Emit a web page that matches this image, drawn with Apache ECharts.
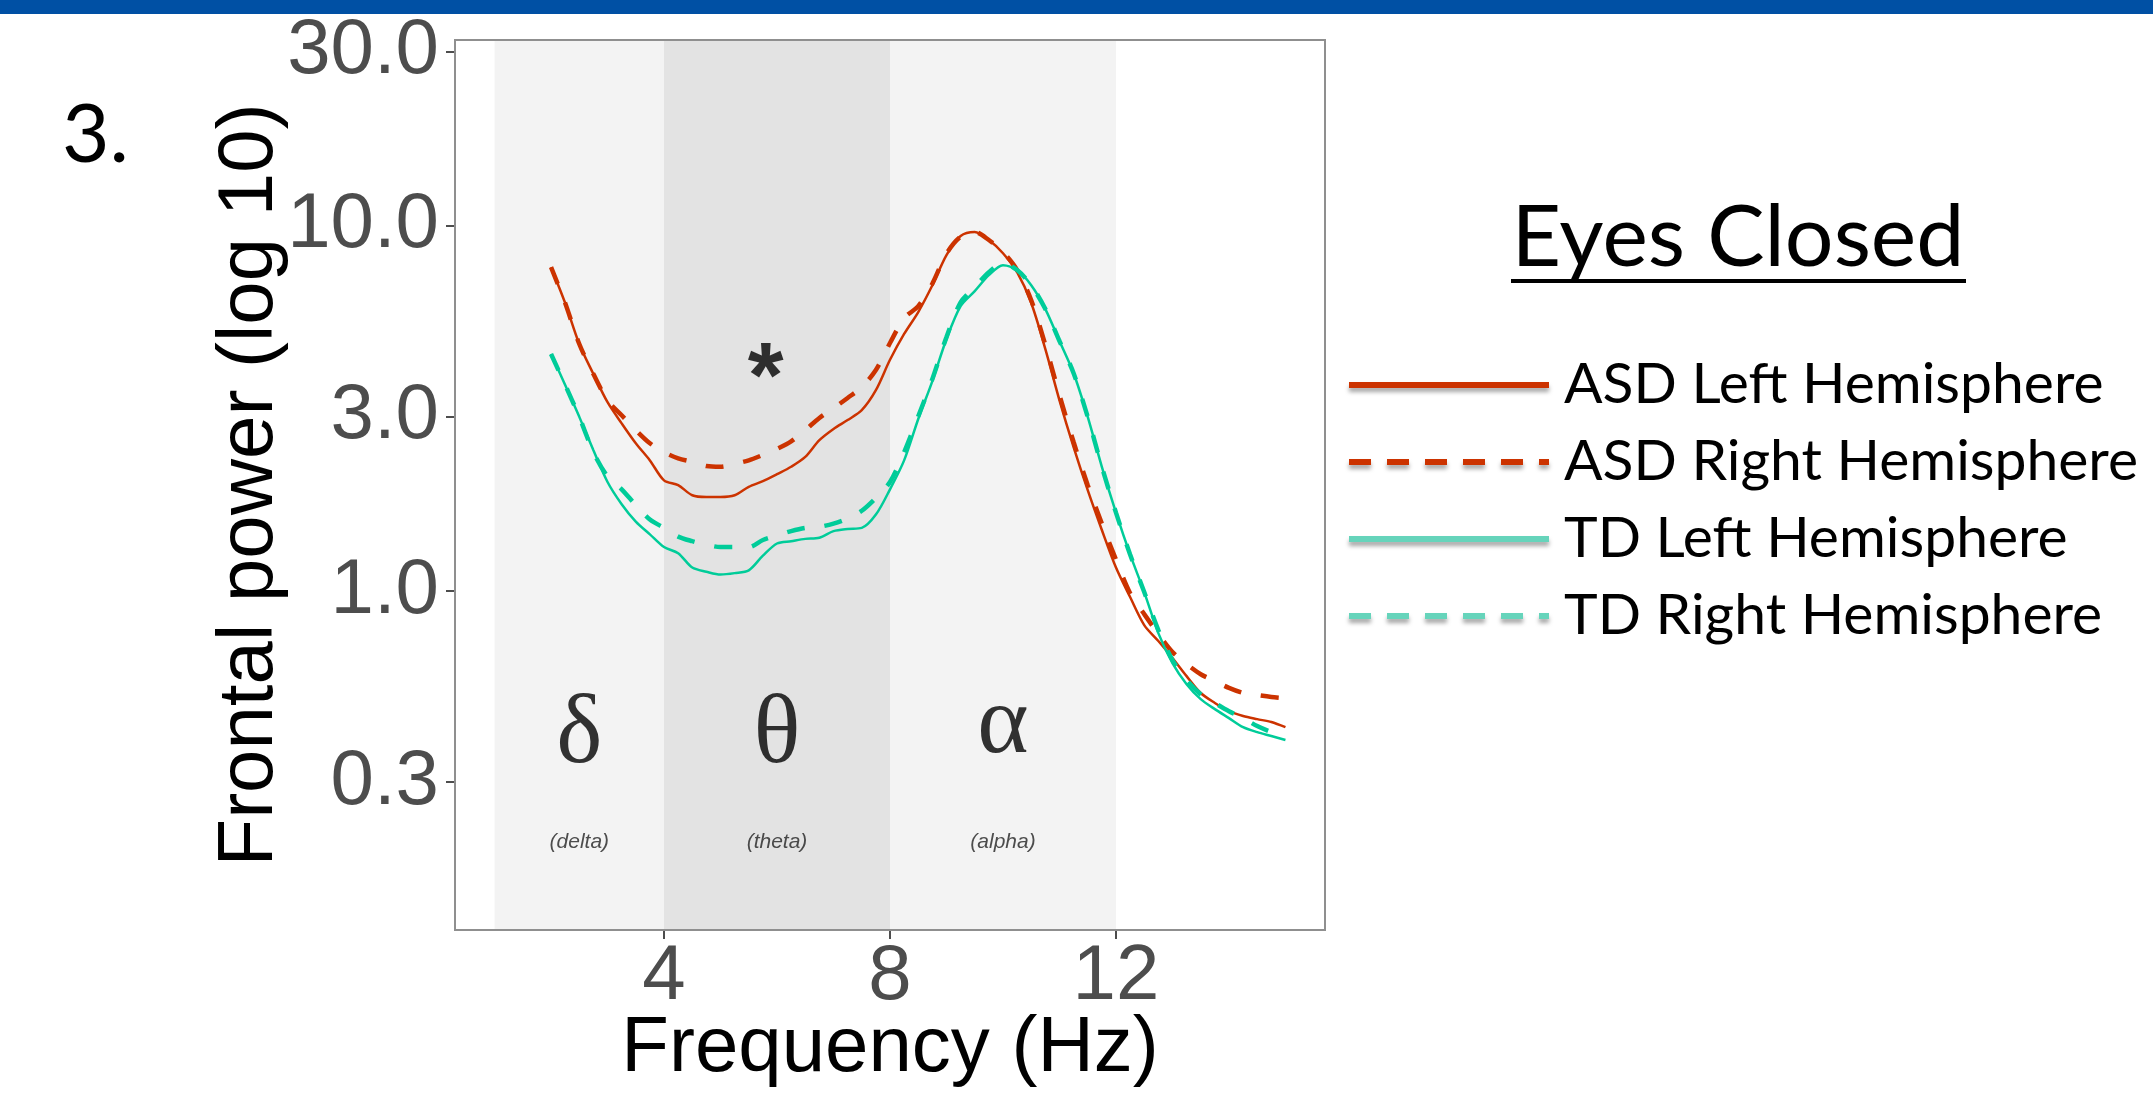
<!DOCTYPE html>
<html>
<head>
<meta charset="utf-8">
<script src="https://cdn.jsdelivr.net/npm/echarts@6/dist/echarts.min.js"></script>
<style>
html,body{margin:0;padding:0;background:#fff;}
#chart{width:2153px;height:1106px;}
</style>
</head>
<body>
<div id="chart"></div>
<script>
// ---- data ----
const frequencies = [2, 2.25, 2.5, 2.75, 3, 3.25, 3.5, 3.75, 4, 4.25, 4.5, 4.75, 5, 5.25, 5.5, 5.75, 6, 6.25, 6.5, 6.75, 7, 7.25, 7.5, 7.75, 8, 8.25, 8.5, 8.75, 9, 9.25, 9.5, 9.75, 10, 10.25, 10.5, 10.75, 11, 11.25, 11.5, 11.75, 12, 12.25, 12.5, 12.75, 13, 13.25, 13.5, 13.75, 14, 14.25, 14.5, 14.75, 15];
const asdLeft = [7.71, 6.15, 4.75, 3.93, 3.29, 2.88, 2.54, 2.28, 2.01, 1.95, 1.83, 1.81, 1.81, 1.83, 1.93, 2.00, 2.09, 2.19, 2.33, 2.59, 2.78, 2.94, 3.13, 3.55, 4.30, 5.06, 5.81, 6.88, 8.32, 9.38, 9.62, 9.15, 8.42, 7.47, 6.15, 4.60, 3.33, 2.48, 1.89, 1.47, 1.16, 0.963, 0.807, 0.730, 0.656, 0.585, 0.526, 0.494, 0.469, 0.455, 0.446, 0.438, 0.424];
const asdRight = [7.71, 6.15, 4.75, 3.93, 3.33, 3.03, 2.76, 2.54, 2.40, 2.31, 2.26, 2.20, 2.19, 2.23, 2.28, 2.36, 2.45, 2.57, 2.76, 2.98, 3.17, 3.38, 3.62, 4.03, 4.78, 5.59, 6.03, 6.95, 8.40, 9.35, 9.62, 9.15, 8.48, 7.57, 6.26, 4.72, 3.44, 2.56, 1.95, 1.53, 1.22, 0.987, 0.865, 0.763, 0.681, 0.631, 0.592, 0.567, 0.543, 0.526, 0.519, 0.513, 0.509];
const tdLeft = [4.46, 3.67, 3.00, 2.43, 1.99, 1.73, 1.55, 1.43, 1.32, 1.27, 1.16, 1.13, 1.11, 1.12, 1.14, 1.25, 1.35, 1.37, 1.39, 1.40, 1.46, 1.48, 1.49, 1.62, 1.90, 2.28, 2.96, 3.76, 4.90, 6.03, 6.63, 7.33, 7.81, 7.57, 6.88, 5.92, 4.84, 3.95, 3.00, 2.19, 1.64, 1.26, 0.994, 0.767, 0.635, 0.556, 0.506, 0.475, 0.449, 0.424, 0.411, 0.401, 0.391];
const tdRight = [4.46, 3.67, 3.00, 2.40, 2.06, 1.90, 1.72, 1.57, 1.49, 1.41, 1.37, 1.34, 1.32, 1.32, 1.32, 1.38, 1.42, 1.46, 1.49, 1.50, 1.53, 1.58, 1.66, 1.80, 1.99, 2.40, 3.01, 3.81, 4.96, 6.18, 6.80, 7.47, 7.91, 7.57, 6.88, 5.92, 4.84, 3.95, 3.00, 2.19, 1.64, 1.26, 0.994, 0.782, 0.647, 0.571, 0.522, 0.494, 0.469, 0.449, 0.427, 0.411, 0.398];
const seriesNames = ['ASD Left Hemisphere', 'ASD Right Hemisphere', 'TD Left Hemisphere', 'TD Right Hemisphere'];
const xTickValues = [4, 8, 12];
const yTickValues = [0.3, 1, 3, 10, 30];
const bandRanges = [[1, 4], [4, 8], [8, 12]];
const bandSymbols = ['δ', 'θ', 'α'];
const bandNames = ['(delta)', '(theta)', '(alpha)'];
const bandLabelX = [2.5, 6, 10];
const bandSymbolY = [0.40, 0.40, 0.427];
const bandNameY = [0.205, 0.205, 0.205];
const starPoint = [5.8, 3.75];

// ---- styles ----
const RED = '#cc3300';
const TEAL = '#00cc99';
const TEAL_LEGEND = '#66d4bb';
const bandColors = ['#f3f3f3', '#e3e3e3', '#f3f3f3'];
const SANS = 'Liberation Sans';
const LEG = 'Lato';

const pair = arr => frequencies.map((f, i) => [f, arr[i]]);
const shadow = { shadowColor: 'rgba(0,0,0,0.35)', shadowBlur: 4, shadowOffsetY: 4 };

const chart = echarts.init(document.getElementById('chart'), null, { renderer: 'canvas' });

const option = {
  animation: false,
  backgroundColor: '#ffffff',
  textStyle: { fontFamily: SANS },
  grid: {
    left: 455, top: 40, width: 870, height: 890,
    show: true, borderColor: '#8f8f8f', borderWidth: 2,
    backgroundColor: 'rgba(0,0,0,0)', z: 10,
    outerBoundsMode: 'none', containLabel: false
  },
  xAxis: {
    type: 'value', min: 0.3, max: 15.7,
    name: 'Frequency (Hz)', nameLocation: 'middle', nameGap: 80, nameMoveOverlap: false,
    nameTextStyle: { fontFamily: SANS, fontSize: 78, color: '#000' },
    axisLine: { show: false },
    splitLine: { show: false },
    axisTick: { show: true, customValues: xTickValues, length: 9, lineStyle: { color: '#4d4d4d', width: 2 } },
    axisLabel: { customValues: xTickValues, margin: 8, fontFamily: SANS, fontSize: 78, color: '#4d4d4d' }
  },
  yAxis: {
    type: 'log', logBase: 10, min: 0.118, max: 32.3,
    name: 'Frontal power (log 10)', nameLocation: 'middle', nameGap: 166, nameRotate: 90, nameMoveOverlap: false,
    nameTextStyle: { fontFamily: SANS, fontSize: 78, color: '#000' },
    axisLine: { show: false },
    splitLine: { show: false },
    minorTick: { show: false },
    axisTick: { show: true, customValues: yTickValues, length: 9, lineStyle: { color: '#4d4d4d', width: 2 } },
    axisLabel: {
      customValues: yTickValues, margin: 16, fontFamily: SANS, fontSize: 78, color: '#4d4d4d',
      padding: [5, 0, 0, 0],
      formatter: v => Number(v).toFixed(1)
    }
  },
  legend: {
    orient: 'vertical', left: 1346, top: 355, padding: 0,
    itemWidth: 200, itemHeight: 60, itemGap: 17, selectedMode: false,
    textStyle: { fontFamily: LEG, fontSize: 57, lineHeight: 60, color: '#000', padding: [0, 0, 0, 10] },
    data: [
      { name: seriesNames[0], itemStyle: { opacity: 0 }, lineStyle: Object.assign({ color: RED, width: 6, type: 'solid' }, shadow) },
      { name: seriesNames[1], itemStyle: { opacity: 0 }, lineStyle: Object.assign({ color: RED, width: 6, type: [22, 16] }, shadow) },
      { name: seriesNames[2], itemStyle: { opacity: 0 }, lineStyle: Object.assign({ color: TEAL_LEGEND, width: 6, type: 'solid' }, shadow) },
      { name: seriesNames[3], itemStyle: { opacity: 0 }, lineStyle: Object.assign({ color: TEAL_LEGEND, width: 6, type: [22, 16] }, shadow) }
    ]
  },
  graphic: [
    { type: 'rect', x: 0, y: 0, shape: { width: 2153, height: 14 }, style: { fill: '#0050a4' }, silent: true },
    { type: 'text', x: 62, y: 136, style: { text: '3.', font: '82px Lato', fill: '#000', align: 'left', verticalAlign: 'middle', textAlign: 'left', textVerticalAlign: 'middle' }, silent: true },
    { type: 'text', x: 1738, y: 238, style: { text: 'Eyes Closed', font: '86px Lato', fill: '#000', align: 'center', verticalAlign: 'middle', textAlign: 'center', textVerticalAlign: 'middle' }, silent: true },
    { type: 'rect', x: 1511, y: 279, shape: { width: 455, height: 4 }, style: { fill: '#000' }, silent: true }
  ],
  series: [
    {
      type: 'line', name: 'bands', data: [], z: 1, silent: true,
      markArea: {
        silent: true,
        data: bandRanges.map((r, i) => [{ xAxis: r[0], itemStyle: { color: bandColors[i] } }, { xAxis: r[1] }])
      }
    },
    {
      type: 'line', name: seriesNames[0], data: pair(asdLeft), symbol: 'none', smooth: 0.3, z: 3,
      color: RED, lineStyle: { color: RED, width: 2.5, type: 'solid' }
    },
    {
      type: 'line', name: seriesNames[1], data: pair(asdRight), symbol: 'none', smooth: 0.3, z: 3,
      color: RED, lineStyle: { color: RED, width: 4.5, type: [18, 20] }
    },
    {
      type: 'line', name: seriesNames[2], data: pair(tdLeft), symbol: 'none', smooth: 0.3, z: 4,
      color: TEAL, lineStyle: { color: TEAL, width: 2.5, type: 'solid' }
    },
    {
      type: 'line', name: seriesNames[3], data: pair(tdRight), symbol: 'none', smooth: 0.3, z: 4,
      color: TEAL, lineStyle: { color: TEAL, width: 4.5, type: [18, 20] }
    },
    {
      type: 'scatter', name: 'bandSymbols', silent: true, z: 5,
      symbolSize: 0.1, itemStyle: { color: 'rgba(0,0,0,0)' },
      data: bandLabelX.map((x, i) => [x, bandSymbolY[i], bandSymbols[i]]),
      label: { show: true, position: 'inside', formatter: p => p.value[2], fontFamily: 'Liberation Serif', fontSize: 98, color: '#000' }
    },
    {
      type: 'scatter', name: 'bandNames', silent: true, z: 5,
      symbolSize: 0.1, itemStyle: { color: 'rgba(0,0,0,0)' },
      data: bandLabelX.map((x, i) => [x, bandNameY[i], bandNames[i]]),
      label: { show: true, position: 'inside', formatter: p => p.value[2], fontFamily: SANS, fontStyle: 'italic', fontSize: 21, color: '#222' }
    },
    {
      type: 'scatter', name: 'significance', silent: true, z: 5,
      symbolSize: 0.1, itemStyle: { color: 'rgba(0,0,0,0)' },
      data: [[starPoint[0], starPoint[1], '*']],
      label: { show: true, position: 'inside', formatter: p => p.value[2], fontFamily: SANS, fontWeight: 'bold', fontSize: 92, color: '#000' }
    }
  ]
};
chart.setOption(option);
</script>
</body>
</html>
